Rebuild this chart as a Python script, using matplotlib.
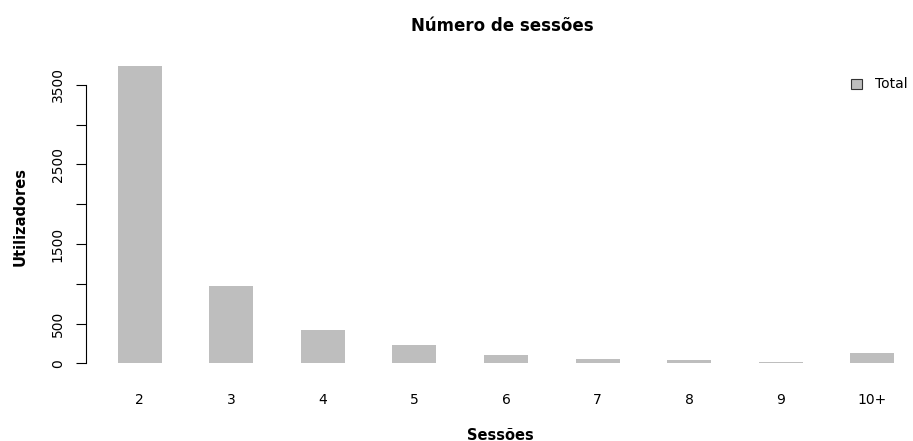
import matplotlib
matplotlib.use("Agg")
import matplotlib.pyplot as plt
from matplotlib.patches import Rectangle

# Sessions per user
categories = ["2", "3", "4", "5", "6", "7", "8", "9", "10+"]
users = [3740, 970, 420, 230, 110, 57, 39, 22, 125]
ytick_values = [0, 500, 1000, 1500, 2000, 2500, 3000, 3500]
ytick_labels = ["0", "500", "", "1500", "", "2500", "", "3500"]

W, H = 913, 441
fig = plt.figure(figsize=(W / 100, H / 100), dpi=100)
fig.patch.set_facecolor("white")

# plot region in pixels
left_px, right_px = 86, 913
top_px, bottom_px = 53.9, 375.2
ax = fig.add_axes([left_px / W, 1 - bottom_px / H,
                   (right_px - left_px) / W, (bottom_px - top_px) / H])

# bars laid out with one unit of space between them
centers = [1.5 + 2 * i for i in range(len(categories))]
ax.bar(centers, users, width=0.96, color="#bebebe", edgecolor="none")

ymax = max(users)
ax.set_ylim(-0.04 * ymax, 1.04 * ymax)
ax.set_xlim(0.33, 0.33 + (right_px - left_px) / 45.8)

for side in ["top", "right", "bottom"]:
    ax.spines[side].set_visible(False)
ax.spines["left"].set_bounds(ytick_values[0], ytick_values[-1])
ax.spines["left"].set_linewidth(0.8)

ax.set_yticks(ytick_values)
ax.set_yticklabels(ytick_labels, rotation=90, va="center")
ax.tick_params(axis="y", length=7.2, width=0.8, pad=8, labelsize=10)

ax.set_xticks(centers)
ax.set_xticklabels(categories)
ax.tick_params(axis="x", length=0, pad=12.5, labelsize=10)

# titles
fig.text(502 / W, 1 - 31 / H, "Número de sessões", ha="center",
         va="baseline", fontsize=12, fontweight="bold")
fig.text(500 / W, 1 - 439.5 / H, "Sessões", ha="center", va="baseline",
         fontsize=10.5, fontweight="bold")
fig.text(20 / W, 1 - 217 / H, "Utilizadores", ha="center", va="center",
         rotation=90, fontsize=10.5, fontweight="bold")

# legend
sq = 10.5
fig.patches.append(Rectangle(((851) / W, 1 - (84 + sq / 2) / H), sq / W, sq / H,
                             transform=fig.transFigure, facecolor="#bebebe",
                             edgecolor="#333333", linewidth=0.8))
fig.text(875 / W, 1 - 84 / H, "Total", ha="left", va="center", fontsize=10)

fig.savefig("out.png", dpi=100)
